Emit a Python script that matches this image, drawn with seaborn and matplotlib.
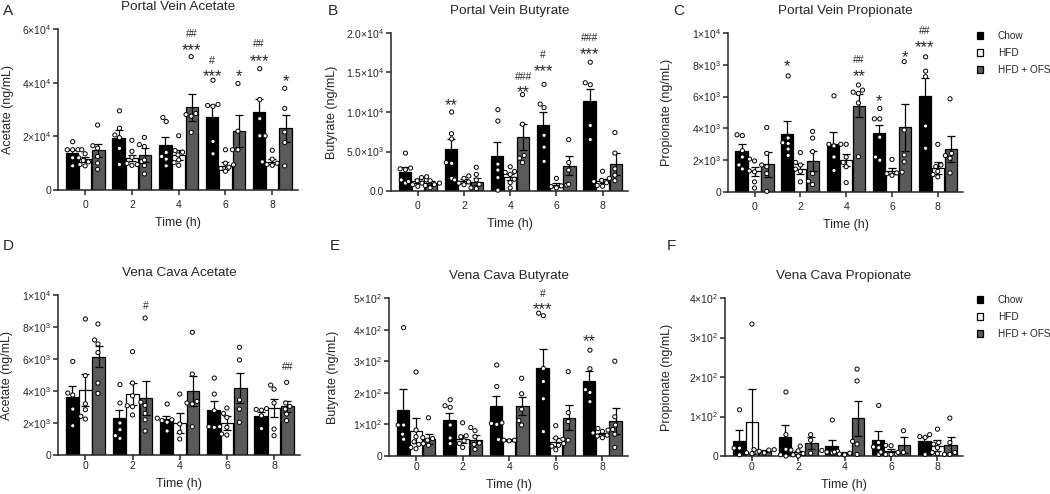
import warnings

import matplotlib
matplotlib.use('Agg')
import matplotlib.pyplot as plt
import matplotlib.transforms as mtransforms
import pandas as pd
import seaborn as sns

warnings.filterwarnings('ignore')

TIMES = ['0', '2', '4', '6', '8']
DIETS = ['Chow', 'HFD', 'HFD + OFS']
BAR_COLORS = ['#000000', '#ffffff', '#5a5a5a']

# values per diet (Chow, HFD, HFD + OFS), one entry per time point
# Portal vein acetate, x1e3 ng/mL
PVA_MEAN = [[13.8, 19.4, 16.6, 27.1, 29.1], [11.5, 11.9, 13.1, 9.0, 10.6], [14.8, 13.0, 30.9, 22.1, 23.0]]
PVA_SEM = [[1.1, 2.8, 3.1, 4.5, 4.9], [0.9, 1.2, 1.9, 1.6, 0.8], [2.5, 2.6, 5.0, 6.0, 5.0]]
PVA_PTS = [
    [[18, 15, 15, 15, 12, 9], [29.5, 23, 20.5, 19.5, 15.5, 9.5], [27, 25.5, 14, 12.5, 11.5, 9],
     [40.9, 31.9, 31.5, 31.2, 18.1, 13.5], [45.2, 33.7, 26.6, 20.2, 20.2]],
    [[15, 13.5, 12, 11, 10.5, 9.5, 9], [18.5, 14.4, 12.2, 10.6, 9.9, 9.5, 9.2], [20.2, 14.7, 14.1, 13.1, 11.2, 10.2, 9.2],
     [15, 10, 9.4, 8.5, 8, 7], [14.8, 11.5, 10.5, 10, 9.5, 9.2]],
    [[24.2, 16.5, 15.6, 12.5, 10, 7.7], [19.6, 16.9, 16.2, 11.2, 9.1, 6], [49.7, 28.5, 28.1, 27.5, 21.5],
     [39.7, 21.9, 15, 15], [37.9, 30.4, 21.6, 17.7, 9]],
]
# (time index, diet index, text, y in panel units)
PVA_SIG = [(2, 2, '***', 54), (2, 2, '##', 58.5), (3, 0, '***', 44), (3, 0, '#', 48.5), (3, 2, '*', 44),
           (4, 0, '***', 49.6), (4, 0, '##', 54.6), (4, 2, '*', 42.2)]

# Portal vein butyrate, x1e3 ng/mL
PVB_MEAN = [[2.45, 5.34, 4.48, 8.4, 11.44], [1.28, 1.28, 1.8, 0.77, 1.28], [0.98, 1.2, 6.83, 3.2, 3.4]]
PVB_SEM = [[0.55, 1.2, 1.7, 1.55, 1.45], [0.3, 0.3, 0.4, 0.25, 0.3], [0.25, 0.4, 1.6, 1.2, 1.35]]
PVB_PTS = [
    [[4.8, 2.9, 2.8, 2.7, 1.4, 1.0], [10, 7.25, 6.6, 3.6, 3.5, 1.6], [10.3, 8.85, 3.4, 2.65, 1.7, 0.1],
     [13.5, 11, 10.55, 7.05, 5.55, 3.75], [16.3, 13.7, 13.45, 8.3, 6.5]],
    [[1.7, 1.4, 1.3, 1.2, 1.0, 0.8, 0.6], [1.9, 1.6, 1.4, 1.15, 1.0, 0.8], [3.07, 2.48, 2.35, 2.1, 1.5, 1.07, 0.4],
     [1.6, 0.75, 0.65, 0.55, 0.4], [2.5, 1.6, 1.35, 1.2, 1.05, 0.7, 0.6]],
    [[1.8, 1.3, 1.0, 0.8, 0.7, 0.4], [3.0, 2.1, 1.4, 0.85, 0.4, 0.3], [12.2, 8.45, 4.5, 4.15, 3.6],
     [6.5, 3.6, 2.65, 0.85], [7.4, 4.8, 2.8, 2.0, 1.3]],
]
PVB_SIG = [(1, 0, '**', 11.4), (2, 2, '**', 13.1), (2, 2, '###', 14.5), (3, 0, '***', 15.8), (3, 0, '#', 17.3),
           (4, 0, '***', 17.9), (4, 0, '###', 19.4)]

# Portal vein propionate, x1e3 ng/mL
PVP_MEAN = [[2.58, 3.66, 3.0, 3.68, 6.03], [1.31, 1.44, 2.01, 1.31, 1.52], [1.74, 1.95, 5.44, 4.06, 2.71]]
PVP_SEM = [[0.42, 0.78, 0.8, 0.55, 1.16], [0.28, 0.3, 0.36, 0.17, 0.38], [0.8, 0.63, 0.74, 1.48, 0.84]]
PVP_PTS = [
    [[3.6, 3.55, 2.6, 2.2, 1.7, 1.45], [7.3, 3.4, 3.1, 3.05, 2.7, 2.3], [6.05, 3.0, 2.9, 2.2, 1.35],
     [5.25, 4.6, 4.6, 3.45, 2.2, 2.0], [8.5, 7.6, 7.25, 4.15, 2.75]],
    [[2.07, 1.95, 1.33, 1.27, 0.64, 0.25], [2.48, 1.86, 1.7, 1.44, 1.3, 0.64], [3.0, 3.0, 2.2, 1.86, 1.59, 0.59],
     [2.05, 1.25, 1.2, 1.15, 1.05], [3.0, 1.7, 1.6, 1.3, 1.1, 0.95]],
    [[4.06, 2.43, 1.7, 1.59, 1.16, 0.04], [3.81, 3.39, 2.54, 1.16, 0.68, 0.47], [6.73, 6.41, 6.28, 6.2, 5.6, 2.22],
     [8.2, 3.9, 2.33, 1.9], [5.86, 2.43, 2.29, 2.12, 1.2]],
]
PVP_SIG = [(1, 0, '*', 8.2), (2, 2, '**', 7.55), (2, 2, '##', 8.36), (3, 0, '*', 6.03), (3, 2, '*', 8.8),
           (4, 0, '***', 9.42), (4, 0, '##', 10.16)]

# Vena cava acetate, x1e3 ng/mL
VCA_MEAN = [[3.6, 2.29, 2.25, 2.83, 2.42], [4.06, 3.81, 2.0, 2.0, 2.94], [6.15, 3.54, 3.98, 4.19, 3.04]]
VCA_SEM = [[0.69, 0.54, 0.17, 0.52, 0.25], [1.0, 0.69, 0.62, 0.42, 0.56], [0.68, 1.06, 0.94, 0.93, 0.36]]
VCA_PTS = [
    [[5.85, 3.87, 3.75, 2.87, 1.83], [4.4, 3.25, 2.0, 1.58, 1.21, 1.04], [3.19, 2.3, 2.2, 2.15, 2.05, 1.5],
     [4.81, 3.81, 2.77, 1.77, 1.77, 1.73], [2.9, 2.85, 2.8, 2.45, 1.65]],
    [[8.5, 4.96, 3.2, 2.83, 2.42, 2.25], [6.46, 4.5, 3.7, 3.08, 3.02, 2.5], [3.81, 1.94, 1.42, 1.0],
     [2.94, 2.6, 2.35, 1.73, 1.31, 1.25], [4.37, 4.12, 3.25, 1.62, 1.21]],
    [[8.19, 7.19, 6.94, 6.4, 4.5, 3.85], [8.56, 3.3, 3.1, 2.6, 2.2, 1.5], [7.67, 5.06, 3.35, 3.25, 3.19, 1.77],
     [6.73, 5.94, 3.44, 2.87, 2.04], [4.54, 3.25, 3.04, 2.87, 2.56, 2.15]],
]
VCA_SIG = [(1, 2, '#', 9.37), (4, 2, '##', 5.52)]

# Vena cava butyrate, ng/mL
VCB_MEAN = [[144, 114, 157, 277, 238], [80, 53, 50, 45, 69], [53, 52, 158, 121, 112]]
VCB_SEM = [[68, 23, 33, 62, 30], [39, 13, 3, 12, 5], [16, 14, 28, 40, 41]]
VCB_PTS = [
    [[406, 98, 98, 69, 53], [178, 159, 154, 98, 57, 39], [288, 220, 105, 103, 100],
     [452, 444, 277, 236, 181, 77], [335, 276, 210, 201, 172]],
    [[266, 82, 61, 45, 37, 27, 23], [105, 64, 61, 48, 40, 27], [52, 50, 50, 48],
     [96, 57, 39, 34, 31, 20], [87, 82, 78, 73, 66, 63, 58]],
    [[121, 58, 55, 50, 39, 34], [90, 80, 61, 41, 37, 21], [246, 197, 148, 112, 98],
     [267, 137, 109, 53, 50], [300, 124, 98, 84, 69, 27]],
]
VCB_SIG = [(3, 0, '***', 481), (3, 0, '#', 516), (4, 0, '**', 377)]

# Vena cava propionate, ng/mL
VCP_MEAN = [[38, 47, 26, 41, 38], [87, 9, 7, 13, 26], [13, 32, 95, 27, 27]]
VCP_SEM = [[28, 31, 14, 23, 9], [83, 4, 2, 4, 14], [2, 15, 45, 20, 20]]
VCP_PTS = [
    [[117, 20, 20, 3], [162, 54, 17, 3, 0], [91, 14, 12, 10, 8], [128, 34, 23, 21, 4], [54, 49, 47, 4]],
    [[334, 10, 8, 6], [25, 15, 13, 6, 3, 0], [10, 7, 5, 3], [27, 26, 10, 5, 4, 4], [68, 34, 30, 21, 9, 6]],
    [[16, 16, 15, 12, 8], [54, 40, 7], [220, 190, 37, 30, 4], [64, 9, 9], [96, 34, 9, 4, 4]],
]
VCP_SIG = []

PVA_TICKS = [0, 20, 40, 60]
PVA_LABELS = ['0', r'$2{\times}10^{4}$', r'$4{\times}10^{4}$', r'$6{\times}10^{4}$']
PVB_TICKS = [0, 5, 10, 15, 20]
PVB_LABELS = ['0.0', r'$5.0{\times}10^{3}$', r'$1.0{\times}10^{4}$', r'$1.5{\times}10^{4}$', r'$2.0{\times}10^{4}$']
PVP_TICKS = [0, 2, 4, 6, 8, 10]
PVP_LABELS = ['0', r'$2{\times}10^{3}$', r'$4{\times}10^{3}$', r'$6{\times}10^{3}$', r'$8{\times}10^{3}$',
              r'$1{\times}10^{4}$']
VCB_TICKS = [0, 100, 200, 300, 400, 500]
VCB_LABELS = ['0', r'$1{\times}10^{2}$', r'$2{\times}10^{2}$', r'$3{\times}10^{2}$', r'$4{\times}10^{2}$',
              r'$5{\times}10^{2}$']

W, H = 1050, 494


def rect(left, right, top, bottom):
    # pixel box -> figure fraction
    return [left / W, 1 - bottom / H, (right - left) / W, (bottom - top) / H]


PANELS = [
    dict(letter='A', lxy=(3, 15), title='Portal Vein Acetate', ylabel='Acetate (ng/mL)',
         mean=PVA_MEAN, sem=PVA_SEM, pts=PVA_PTS, sig=PVA_SIG, ticks=PVA_TICKS, labels=PVA_LABELS,
         box=rect(58, 298, 29, 190), ylab_x=-0.185, xpad=4, legend=None),
    dict(letter='B', lxy=(328, 15), title='Portal Vein Butyrate', ylabel='Butyrate (ng/mL)',
         mean=PVB_MEAN, sem=PVB_SEM, pts=PVB_PTS, sig=PVB_SIG, ticks=PVB_TICKS, labels=PVB_LABELS,
         box=rect(391, 628, 33, 191), ylab_x=-0.222, xpad=4, legend=None),
    dict(letter='C', lxy=(673, 15), title='Portal Vein Propionate', ylabel='Propionate (ng/mL)',
         mean=PVP_MEAN, sem=PVP_SEM, pts=PVP_PTS, sig=PVP_SIG, ticks=PVP_TICKS, labels=PVP_LABELS,
         box=rect(728, 963, 33, 192), ylab_x=-0.236, xpad=4, legend=(977, 31)),
    dict(letter='D', lxy=(3, 250), title='Vena Cava Acetate', ylabel='Acetate (ng/mL)',
         mean=VCA_MEAN, sem=VCA_SEM, pts=VCA_PTS, sig=VCA_SIG, ticks=PVP_TICKS, labels=PVP_LABELS,
         box=rect(58, 300, 295, 455), ylab_x=-0.185, xpad=0.8, legend=None),
    dict(letter='E', lxy=(330, 250), title='Vena Cava Butyrate', ylabel='Butyrate (ng/mL)',
         mean=VCB_MEAN, sem=VCB_SEM, pts=VCB_PTS, sig=VCB_SIG, ticks=VCB_TICKS, labels=VCB_LABELS,
         box=rect(389, 628, 298, 456), ylab_x=-0.211, xpad=0.8, legend=None),
    dict(letter='F', lxy=(667, 250), title='Vena Cava Propionate', ylabel='Propionate (ng/mL)',
         mean=VCP_MEAN, sem=VCP_SEM, pts=VCP_PTS, sig=VCP_SIG, ticks=VCB_TICKS[:5], labels=VCB_LABELS[:5],
         box=rect(725, 963, 298, 456), ylab_x=-0.22, xpad=0.8, legend=(977, 295)),
]


def draw_panel(fig, p):
    ax = fig.add_axes(p['box'])
    bars = pd.DataFrame([(t, d, p['mean'][j][i]) for j, d in enumerate(DIETS) for i, t in enumerate(TIMES)],
                        columns=['time', 'diet', 'value'])
    pts = pd.DataFrame([(t, d, v) for j, d in enumerate(DIETS) for i, t in enumerate(TIMES)
                        for v in p['pts'][j][i]], columns=['time', 'diet', 'value'])

    sns.barplot(data=bars, x='time', y='value', hue='diet', order=TIMES, hue_order=DIETS,
                palette=BAR_COLORS, saturation=1, errorbar=None, width=0.85, gap=0.06,
                edgecolor='black', linewidth=0.9, legend=p['legend'] is not None, ax=ax)

    # mean +/- SEM
    for j, cont in enumerate(ax.containers[:3]):
        xs = [b.get_x() + b.get_width() / 2 for b in cont]
        ax.errorbar(xs, p['mean'][j], yerr=p['sem'][j], fmt='none', ecolor='black',
                    elinewidth=0.9, capsize=2.6, capthick=0.9, zorder=3)

    sns.swarmplot(data=pts, x='time', y='value', hue='diet', order=TIMES, hue_order=DIETS,
                  palette=['white'] * 3, dodge=True, size=3.0, edgecolor='black', linewidth=0.7,
                  legend=False, ax=ax, zorder=4, clip_on=False)

    for ti, hi, txt, y in p['sig']:
        b = ax.containers[hi][ti]
        x = b.get_x() + b.get_width() / 2
        if txt.startswith('*'):
            size, shift = 12, -0.58 * 12
        else:
            size, shift = 7.5, -0.35 * 7.5
        tr = mtransforms.offset_copy(ax.transData, fig=fig, y=shift, units='points')
        ax.text(x, y, txt, ha='center', va='baseline', fontsize=size, transform=tr)

    ax.set_xlim(-0.58, 4.55)
    ax.set_ylim(0, p['ticks'][-1])
    ax.set_yticks(p['ticks'], p['labels'])
    ax.set_xlabel('Time (h)', fontsize=9, labelpad=5)
    ax.set_ylabel(p['ylabel'], fontsize=9)
    ax.yaxis.set_label_coords(p['ylab_x'], 0.5)
    ax.set_title(p['title'], fontsize=9.7, pad=14)
    sns.despine(ax=ax)
    for s in ['left', 'bottom']:
        ax.spines[s].set_linewidth(1.1)
    ax.tick_params(labelsize=7.5, width=1.1, length=3.5, pad=1.5)
    ax.tick_params(axis='x', pad=p['xpad'])

    if p['legend'] is not None:
        lx, ly = p['legend']
        sns.move_legend(ax, 'upper left', bbox_to_anchor=(lx / W, 1 - ly / H),
                        bbox_transform=fig.transFigure, title=None, frameon=False, fontsize=7.2,
                        handlelength=0.6, handleheight=0.6, handletextpad=1.5, labelspacing=0.7,
                        borderpad=0, borderaxespad=0)

    fig.text(p['lxy'][0] / W, 1 - p['lxy'][1] / H, p['letter'], fontsize=11, va='baseline', ha='left')


sns.set_style('ticks')
plt.rcParams['font.family'] = ['Liberation Sans', 'DejaVu Sans']
plt.rcParams['mathtext.fontset'] = 'custom'
plt.rcParams['mathtext.rm'] = 'Liberation Sans'
plt.rcParams['mathtext.it'] = 'Liberation Sans:italic'
plt.rcParams['mathtext.bf'] = 'Liberation Sans:bold'

fig = plt.figure(figsize=(W / 100, H / 100), dpi=100)
for panel in PANELS:
    draw_panel(fig, panel)
fig.savefig('out.png', dpi=100)
plt.close(fig)
